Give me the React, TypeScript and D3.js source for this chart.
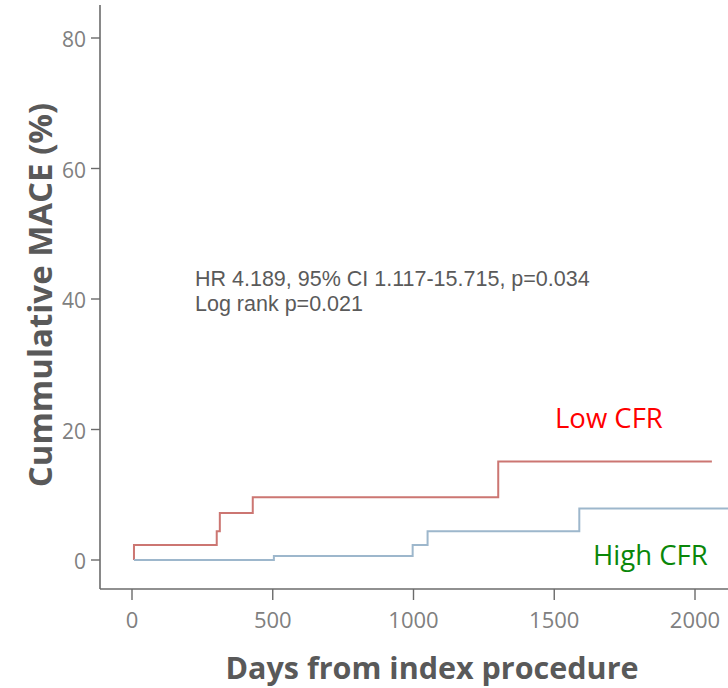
import React from "react";
import * as d3 from "d3";

// Kaplan–Meier style cumulative event curves (step functions)
const lowDays = [7, 7, 301, 312, 429, 1301, 2060];
const lowPct = [0, 2.3, 4.4, 7.2, 9.6, 15.1, 15.1];
const highDays = [7, 504, 997, 1050, 1589, 2130];
const highPct = [0, 0.6, 2.3, 4.4, 7.9, 7.9];

const xTicks = [0, 500, 1000, 1500, 2000];
const yTicks = [0, 20, 40, 60, 80];

const statsLines = ["HR 4.189, 95% CI 1.117-15.715, p=0.034", "Log rank p=0.021"];

const W = 728;
const H = 688;

export default function App() {
  const x = d3.scaleLinear().domain([0, 2000]).range([132, 695]);
  const y = d3.scaleLinear().domain([0, 80]).range([560, 38]);

  const step = d3
    .line<[number, number]>()
    .x((d) => x(d[0]))
    .y((d) => y(d[1]))
    .curve(d3.curveStepAfter);

  const lowPath = step(lowDays.map((d, i) => [d, lowPct[i]]))!;
  const highPath = step(highDays.map((d, i) => [d, highPct[i]]))!;

  const axisX = 100;
  const axisY = 589;
  const tickFont = "'Open Sans', sans-serif";
  const noteFont = "'Liberation Sans', Arial, sans-serif";

  return (
    <svg
      width={W}
      height={H}
      style={{ position: "absolute", left: 0, top: 0, background: "#fff" }}
    >
      {/* axes */}
      <line x1={axisX} x2={axisX} y1={5} y2={axisY} stroke="#6b6b6b" strokeWidth={1.6} />
      <line x1={axisX} x2={W} y1={axisY} y2={axisY} stroke="#6b6b6b" strokeWidth={1.6} />

      {yTicks.map((t) => (
        <g key={"y" + t}>
          <line x1={axisX - 9} x2={axisX} y1={y(t)} y2={y(t)} stroke="#6b6b6b" strokeWidth={1.4} />
          <text
            x={axisX - 14}
            y={y(t) + 2}
            dy="0.35em"
            textAnchor="end"
            fontFamily={tickFont}
            fontSize={21}
            fill="#808080"
          >
            {t}
          </text>
        </g>
      ))}

      {xTicks.map((t) => (
        <g key={"x" + t}>
          <line x1={x(t)} x2={x(t)} y1={axisY} y2={axisY + 11} stroke="#6b6b6b" strokeWidth={1.4} />
          <text
            x={x(t)}
            y={620}
            dy="0.35em"
            textAnchor="middle"
            fontFamily={tickFont}
            fontSize={22}
            fill="#808080"
          >
            {t}
          </text>
        </g>
      ))}

      {/* curves */}
      <path d={lowPath} fill="none" stroke="#cc7672" strokeWidth={2} />
      <path d={highPath} fill="none" stroke="#9db7cc" strokeWidth={2} />

      {/* statistics */}
      {statsLines.map((s, i) => (
        <text
          key={s}
          x={195}
          y={286 + i * 25}
          fontFamily={noteFont}
          fontSize={21.5}
          fill="#5a5a5a"
        >
          {s}
        </text>
      ))}

      {/* group labels */}
      <text x={555} y={418} dy="0.35em" fontFamily={tickFont} fontSize={27.5} fill="#ff0000">
        Low CFR
      </text>
      <text x={593} y={555} dy="0.35em" fontFamily={tickFont} fontSize={27.5} fill="#0a870a">
        High CFR
      </text>

      {/* axis titles */}
      <text
        x={432}
        y={668}
        dy="0.35em"
        textAnchor="middle"
        fontFamily={tickFont}
        fontWeight="bold"
        fontSize={30.5}
        fill="#595959"
      >
        Days from index procedure
      </text>
      <text
        transform={`translate(40,295) rotate(-90)`}
        dy="0.35em"
        textAnchor="middle"
        fontFamily={tickFont}
        fontWeight="bold"
        fontSize={33}
        fill="#595959"
      >
        Cummulative MACE (%)
      </text>
    </svg>
  );
}
